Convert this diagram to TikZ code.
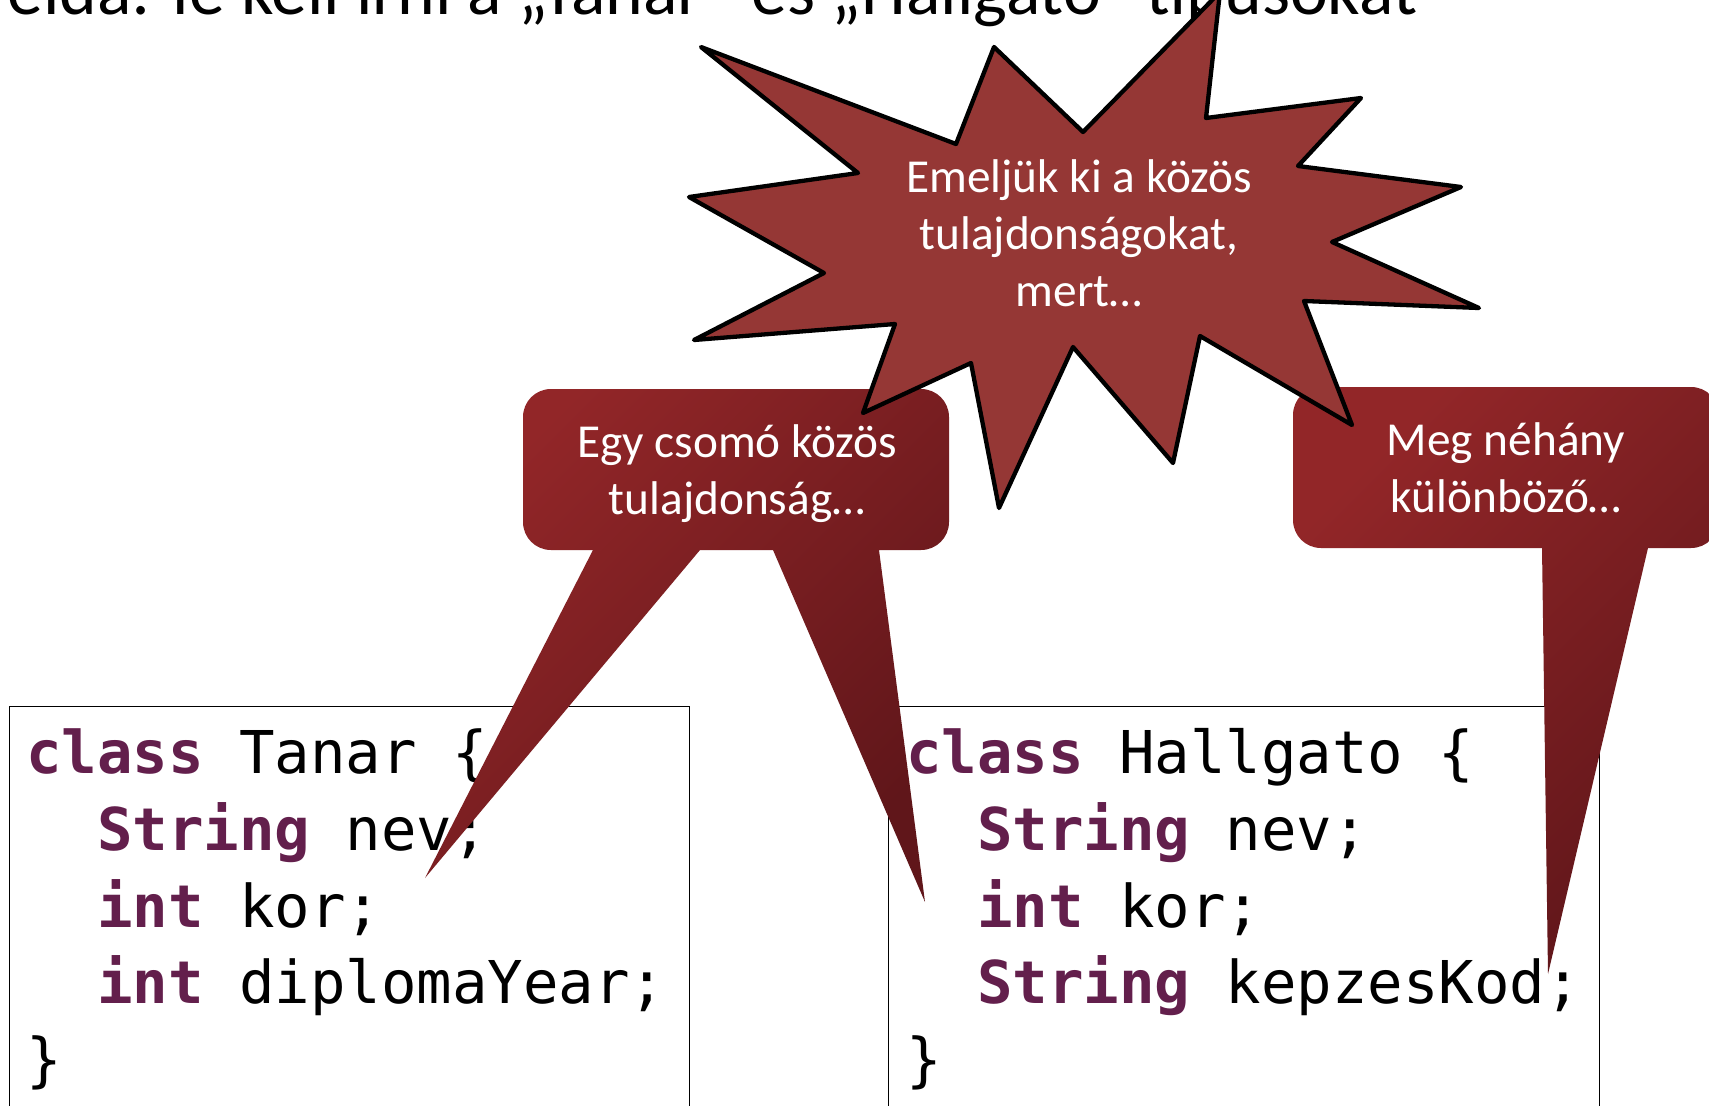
\documentclass[tikz,border=0pt]{standalone}
\usepackage{fontspec}
\setmainfont{Carlito}
\newfontfamily\codefont{DejaVu Sans Mono}
\definecolor{starfill}{RGB}{149,55,53}
\definecolor{calloutlight}{RGB}{146,38,40}
\definecolor{calloutdark}{RGB}{96,22,26}
\definecolor{kwpurple}{RGB}{99,31,76}
\newcommand\kwd[1]{\textcolor{kwpurple}{\bfseries #1}}
\tikzset{
 codebox/.style={draw=black, line width=1.3pt, fill=white, inner sep=0pt, anchor=north west},
 codeline/.style={anchor=base west, inner sep=0pt, font=\codefont\fontsize{59}{76.8}\selectfont},
 callout/.style={top color=calloutlight, bottom color=calloutdark, shading angle=45},
 calltext/.style={anchor=base, inner sep=0pt, text=white, font=\fontsize{47.3}{57.5}\selectfont},
 burst/.style={fill=starfill, draw=black, line width=4.3pt, line join=round},
 titletext/.style={anchor=base west, inner sep=0pt, font=\fontsize{71.7}{84}\selectfont}
}
\begin{document}
\begin{tikzpicture}[x=1pt,y=-1pt]
\useasboundingbox (0,0) rectangle (1709,1106);
\clip (0,0) rectangle (1709,1106);
\fill[white] (0,0) rectangle (1709,1106);

% title (cut off at the top, as in the reference)
\node[titletext] (title) at (-28,14) {Példa: le kell írni a „Tanar” és „Hallgato” típusokat};

% code boxes
\node[codebox, minimum width=680pt, minimum height=430pt] (tanarbox) at (9,706) {};
\node[codebox, minimum width=711pt, minimum height=430pt] (hallgatobox) at (888,706) {};

\node[codeline] (tanar1) at (26,773) {\kwd{class} Tanar \{};
\node[codeline] (tanar2) at (97,850) {\kwd{String} nev;};
\node[codeline] (tanar3) at (97,927) {\kwd{int} kor;};
\node[codeline] (tanar4) at (97,1003) {\kwd{int} diplomaYear;};
\node[codeline] (tanar5) at (26,1080) {\}};

\node[codeline] (hallg1) at (906,773) {\kwd{class} Hallgato \{};
\node[codeline] (hallg2) at (977,850) {\kwd{String} nev;};
\node[codeline] (hallg3) at (977,927) {\kwd{int} kor;};
\node[codeline] (hallg4) at (977,1003) {\kwd{String} kepzesKod;};
\node[codeline] (hallg5) at (906,1080) {\}};

% callout 1
\shade[callout] (551,389) -- (921,389) .. controls (936.5,389) and (949,401.5) .. (949,417)
  -- (949,522) .. controls (949,537.5) and (936.5,550) .. (921,550)
  -- (879,550) -- (925,902) -- (773,550) -- (700,550) -- (425,878) -- (593,550)
  -- (551,550) .. controls (535.5,550) and (523,537.5) .. (523,522)
  -- (523,417) .. controls (523,401.5) and (535.5,389) .. (551,389) -- cycle;

% callout 2
\shade[callout] (1321,387) -- (1691,387) .. controls (1706.5,387) and (1719,399.5) .. (1719,415)
  -- (1719,520) .. controls (1719,535.5) and (1706.5,548) .. (1691,548)
  -- (1648,548) -- (1548,974) -- (1542,548)
  -- (1321,548) .. controls (1305.5,548) and (1293,535.5) .. (1293,520)
  -- (1293,415) .. controls (1293,399.5) and (1305.5,387) .. (1321,387) -- cycle;

\node[calltext] (c1a) at (737,457.5) {Egy csomó közös};
\node[calltext] (c1b) at (737,514.6) {tulajdonság…};
\node[calltext] (c2a) at (1506,455) {Meg néhány};
\node[calltext] (c2b) at (1506,512) {különböző…};

% explosion
\draw[burst] (701,47) -- (956,144) -- (994,47) -- (1083,132) -- (1220,-8) -- (1206,118)
  -- (1361,98) -- (1298,166) -- (1461,187) -- (1332,242) -- (1479,308) -- (1304,301)
  -- (1352,425) -- (1200,336) -- (1173,463) -- (1073,347) -- (999,508) -- (971,363)
  -- (863,413) -- (895,324) -- (694,340) -- (824,273) -- (689,197) -- (858,173) -- cycle;

\node[calltext] (s1) at (1079,192) {Emeljük ki a közös};
\node[calltext] (s2) at (1079,249) {tulajdonságokat,};
\node[calltext] (s3) at (1079,306) {mert…};
\end{tikzpicture}
\end{document}
